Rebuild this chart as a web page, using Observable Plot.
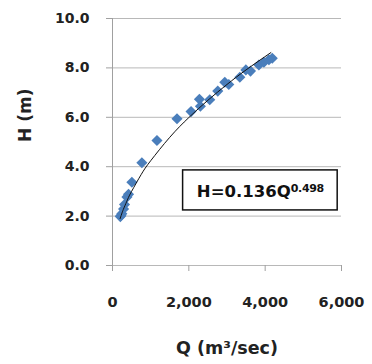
<!DOCTYPE html>
<html>
<head>
<meta charset="utf-8">
<script src="https://cdn.jsdelivr.net/npm/d3@7"></script>
<script src="https://cdn.jsdelivr.net/npm/@observablehq/plot@0.6"></script>
<style>
  html, body { margin: 0; padding: 0; background: #fff; }
  svg { display: block; }
</style>
</head>
<body>
<div id="chart"></div>
<script>
// Observed discharge Q (m3/sec) and stage H (m)
const obsQ = [205, 220, 245, 290, 315, 378, 420, 508, 770, 1165, 1690, 2058, 2277, 2303, 2548, 2758, 2942, 3047, 3336, 3494, 3616, 3835, 3967, 4098, 4186];
const obsH = [1.98, 2.02, 2.10, 2.29, 2.47, 2.77, 2.88, 3.37, 4.16, 5.06, 5.94, 6.23, 6.73, 6.45, 6.71, 7.06, 7.42, 7.33, 7.62, 7.92, 7.87, 8.12, 8.23, 8.33, 8.39];

// Trend line
const trendQ = [200, 250, 300, 400, 500, 750, 1000, 1500, 2000, 2500, 3000, 3500, 4150];
const trendH = [1.90, 2.13, 2.33, 2.69, 3.00, 3.68, 4.24, 5.19, 5.99, 6.69, 7.33, 7.92, 8.62];

const xTicks = [0, 2000, 4000, 6000];
const yTicks = [0, 2, 4, 6, 8, 10];

const eqMain = "H=0.136Q";
const eqExp = "0.498";
const eqBoxQ = [1850, 5900];
const eqBoxH = [2.23, 3.85];

const points = obsQ.map((q, i) => ({Q: q, H: obsH[i]}));
const trend = trendQ.map((q, i) => ({Q: q, H: trendH[i]}));

const font = "DejaVu Sans";

const chart = Plot.plot({
  width: 372,
  height: 364,
  marginLeft: 112,
  marginRight: 31,
  marginTop: 18,
  marginBottom: 99,
  style: {fontFamily: font, background: "#fff", color: "#222"},
  x: {domain: [0, 6000]},
  y: {domain: [0, 10]},
  marks: [
    Plot.gridY(yTicks, {stroke: "#b8b8b8", strokeOpacity: 1}),
    Plot.ruleX([0], {stroke: "#a0a0a0"}),
    Plot.axisY({ticks: yTicks, tickFormat: d3.format(".1f"), tickSize: 6, tickPadding: 17,
      stroke: "#a0a0a0", fill: "#222", fontSize: 14, fontWeight: "bold", fontFamily: font, label: null}),
    Plot.axisX({ticks: xTicks, tickFormat: d3.format(","), tickSize: 6, tickPadding: 25,
      stroke: "#a0a0a0", fill: "#222", fontSize: 14.5, fontWeight: "bold", fontFamily: font, label: null}),
    Plot.dot(points, {x: "Q", y: "H", symbol: "diamond2", r: 5, fill: "#4a7ebb", stroke: "none"}),
    Plot.line(trend, {x: "Q", y: "H", curve: "natural", stroke: "#111", strokeWidth: 1}),
    Plot.rect([{x1: eqBoxQ[0], x2: eqBoxQ[1], y1: eqBoxH[0], y2: eqBoxH[1]}],
      {x1: "x1", x2: "x2", y1: "y1", y2: "y2", fill: "#fff", stroke: "#111", strokeWidth: 1.5}),
    Plot.text([eqMain], {x: (eqBoxQ[0] + eqBoxQ[1]) / 2, y: (eqBoxH[0] + eqBoxH[1]) / 2, text: d => d,
      dy: 1, fontSize: 16.5, fontWeight: "bold", fontFamily: font, fill: "#111", className: "eq"}),
    Plot.text(["H (m)"], {frameAnchor: "left", dx: -87, rotate: -90, text: d => d,
      fontSize: 17, fontWeight: "bold", fontFamily: font, fill: "#222"}),
    Plot.text(["Q (m³/sec)"], {frameAnchor: "bottom", dy: 88, text: d => d,
      fontSize: 17.5, fontWeight: "bold", fontFamily: font, fill: "#222"})
  ]
});

d3.select(chart).select(".eq text")
  .append("tspan")
  .attr("dy", "-0.42em")
  .attr("font-size", 11)
  .attr("letter-spacing", "-0.3")
  .text(eqExp);

document.getElementById("chart").appendChild(chart);
</script>
</body>
</html>
